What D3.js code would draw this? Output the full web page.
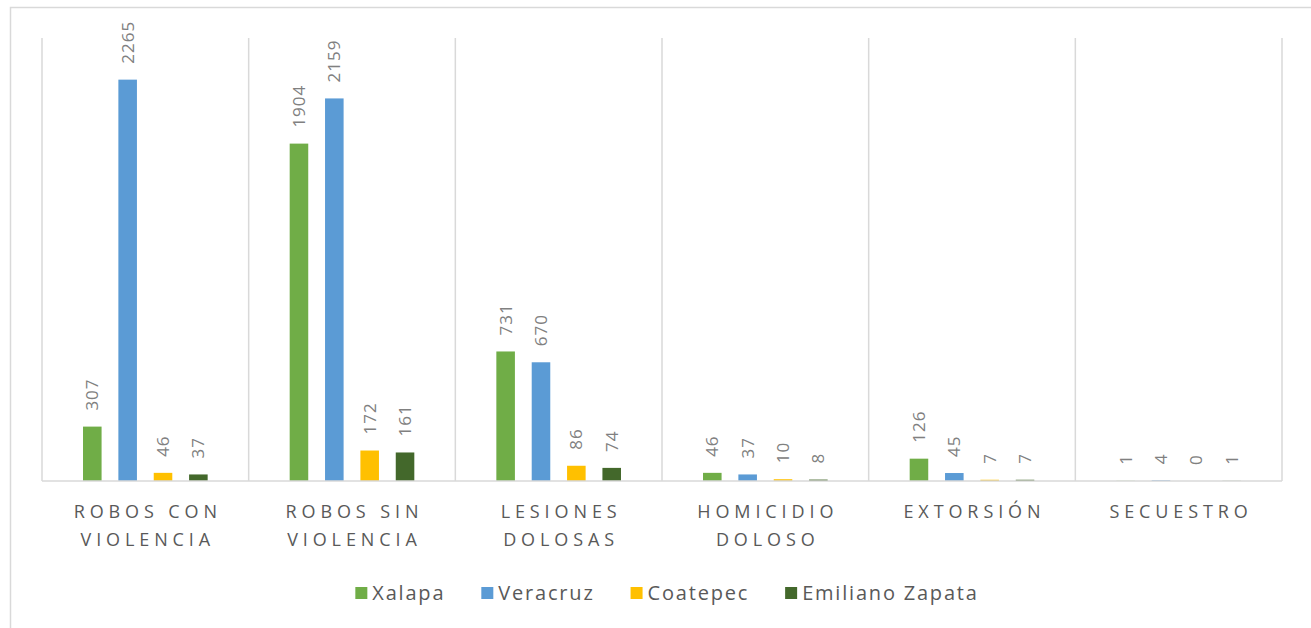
<!DOCTYPE html>
<html>
<head>
<meta charset="utf-8">
<script src="https://cdn.jsdelivr.net/npm/d3@7"></script>
<style>
	body { margin: 0; background: #fff; }
	svg { display: block; font-family: "Open Sans", sans-serif; }
</style>
</head>
<body>
<svg id="chart" width="1311" height="628"></svg>
<script>
//categories (each one can wrap on two lines)
var categories = ["ROBOS CON VIOLENCIA", "ROBOS SIN VIOLENCIA", "LESIONES DOLOSAS", "HOMICIDIO DOLOSO", "EXTORSIÓN", "SECUESTRO"];
var categoryLines = [["ROBOS CON", "VIOLENCIA"], ["ROBOS SIN", "VIOLENCIA"], ["LESIONES", "DOLOSAS"], ["HOMICIDIO", "DOLOSO"], ["EXTORSIÓN"], ["SECUESTRO"]];

//series
var seriesNames = ["Xalapa", "Veracruz", "Coatepec", "Emiliano Zapata"];
var seriesColors = ["#70AD47", "#5B9BD5", "#FFC000", "#43682B"];
var xalapa = [307, 1904, 731, 46, 126, 1];
var veracruz = [2265, 2159, 670, 37, 45, 4];
var coatepec = [46, 172, 86, 10, 7, 0];
var emilianoZapata = [37, 161, 74, 8, 7, 1];
var seriesValues = [xalapa, veracruz, coatepec, emilianoZapata];

var yMax = 2500;

var svg = d3.select("#chart");

//outer chart border (cut by the window on the right and bottom)
svg.append("rect")
	.attr("x", 10.5).attr("y", 7.5)
	.attr("width", 1330).attr("height", 650)
	.attr("fill", "#fff")
	.attr("stroke", "#d9d9d9")
	.attr("stroke-width", 1.5);

var plot = {left: 42, right: 1282, top: 38, bottom: 481};

var x0 = d3.scaleBand()
	.domain(categories)
	.range([plot.left, plot.right])
	.padding(0);

var x1 = d3.scaleBand()
	.domain(seriesNames)
	.range([0, x0.bandwidth()])
	.paddingInner(0.475)
	.paddingOuter(1.16);

var y = d3.scaleLinear()
	.domain([0, yMax])
	.range([plot.bottom, plot.top]);

//vertical grid lines between categories
var bounds = categories.map(function(c) { return x0(c); }).concat([plot.right]);
svg.append("g").selectAll("line")
	.data(bounds)
	.enter().append("line")
	.attr("x1", function(d) { return d; })
	.attr("x2", function(d) { return d; })
	.attr("y1", plot.top)
	.attr("y2", plot.bottom)
	.attr("stroke", "#d9d9d9")
	.attr("stroke-width", 1.5);

//build flat list of bars
var bars = [];
categories.forEach(function(c, ci) {
	seriesNames.forEach(function(s, si) {
		bars.push({cat: c, serie: s, color: seriesColors[si], value: seriesValues[si][ci]});
	});
});

svg.append("g").selectAll("rect")
	.data(bars)
	.enter().append("rect")
	.attr("x", function(d) { return x0(d.cat) + x1(d.serie); })
	.attr("y", function(d) { return y(d.value); })
	.attr("width", x1.bandwidth())
	.attr("height", function(d) { return plot.bottom - y(d.value); })
	.attr("fill", function(d) { return d.color; });

//data labels, rotated
svg.append("g").selectAll("text")
	.data(bars)
	.enter().append("text")
	.attr("transform", function(d) {
		var cx = x0(d.cat) + x1(d.serie) + x1.bandwidth() / 2;
		return "translate(" + cx + "," + (y(d.value) - 16) + ") rotate(-90)";
	})
	.attr("dy", "0.36em")
	.attr("text-anchor", "start")
	.attr("fill", "#808080")
	.style("font-size", "17px")
	.style("letter-spacing", "1px")
	.text(function(d) { return d.value; });

//baseline
svg.append("line")
	.attr("x1", plot.left).attr("x2", plot.right)
	.attr("y1", plot.bottom).attr("y2", plot.bottom)
	.attr("stroke", "#d9d9d9")
	.attr("stroke-width", 1.5);

//category labels
var catSpacing = 4.9;
var catLabels = svg.append("g").selectAll("text")
	.data(categories)
	.enter().append("text")
	.attr("text-anchor", "middle")
	.attr("fill", "#595959")
	.style("font-size", "18px")
	.style("letter-spacing", catSpacing + "px");
catLabels.each(function(c, i) {
	var t = d3.select(this);
	categoryLines[i].forEach(function(line, li) {
		t.append("tspan")
			.attr("x", x0(c) + x0.bandwidth() / 2 + catSpacing / 2)
			.attr("y", 518 + li * 28)
			.text(line);
	});
});

//legend
var legend = svg.append("g");
var items = legend.selectAll("g")
	.data(seriesNames)
	.enter().append("g");
items.append("rect")
	.attr("width", 12).attr("height", 12)
	.attr("y", 587)
	.attr("fill", function(d, i) { return seriesColors[i]; });
items.append("text")
	.attr("x", 17)
	.attr("y", 600)
	.attr("fill", "#595959")
	.style("font-size", "20px")
	.style("letter-spacing", "1.8px")
	.text(function(d) { return d; });

var widths = [];
items.each(function() {
	widths.push(17 + d3.select(this).select("text").node().getComputedTextLength());
});
var gap = 36;
var total = d3.sum(widths) + gap * (widths.length - 1);
var pos = 667 - total / 2;
items.each(function(d, i) {
	d3.select(this).attr("transform", "translate(" + pos + ",0)");
	pos += widths[i] + gap;
});
</script>
</body>
</html>
